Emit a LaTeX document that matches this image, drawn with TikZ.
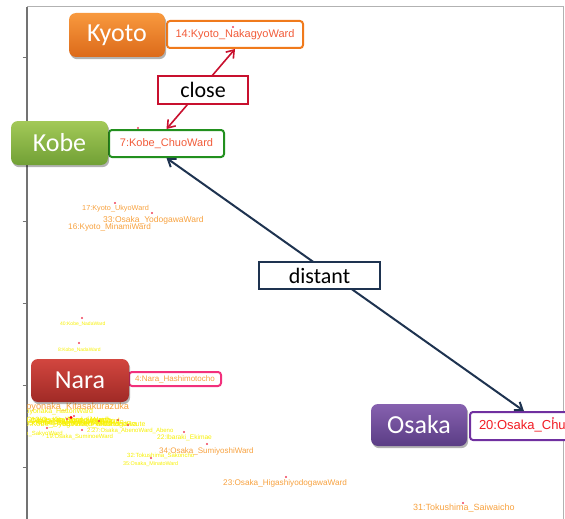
\documentclass[tikz,border=0pt]{standalone}
\usepackage{fontspec}
\setmainfont{Carlito}
\newfontfamily\lab{Liberation Sans}
\usetikzlibrary{arrows.meta,shadows,calc}

\definecolor{kyotoT}{HTML}{F8993E}
\definecolor{kyotoB}{HTML}{DC6A1A}
\definecolor{kyotoE}{HTML}{F07A1C}
\definecolor{kobeT}{HTML}{A3C958}
\definecolor{kobeB}{HTML}{71A035}
\definecolor{kobeE}{HTML}{22901E}
\definecolor{naraT}{HTML}{D2463F}
\definecolor{naraB}{HTML}{A02A26}
\definecolor{naraE}{HTML}{F2307C}
\definecolor{osakaT}{HTML}{8661AF}
\definecolor{osakaB}{HTML}{5B3D85}
\definecolor{osakaE}{HTML}{7030A0}
\definecolor{wardtxt}{HTML}{F25C3A}
\definecolor{osakatxt}{HTML}{F21C24}
\definecolor{ptorange}{HTML}{F7A13E}
\definecolor{ptyellow}{HTML}{F7F000}
\definecolor{dotred}{HTML}{F0405A}
\definecolor{closeE}{HTML}{C8102E}
\definecolor{navy}{HTML}{1E3350}

\newcommand{\fsz}[1]{\fontsize{#1}{#1}\selectfont}

\tikzset{
  city/.style={rounded corners=7pt, text=white, inner sep=0pt,
    font=\fsz{26},
    drop shadow={shadow xshift=1.2pt, shadow yshift=-2.2pt, opacity=0.3, fill=black}},
  ward/.style={draw, fill=white, rounded corners=3pt, line width=2pt,
    inner sep=0pt, font=\lab\fsz{11}, text=wardtxt},
  tag/.style={draw, fill=white, line width=2pt, inner sep=0pt,
    font=\fsz{22}, text=black},
  dot/.style={circle, fill=dotred, inner sep=0pt, minimum size=2.4pt},
  olab/.style={anchor=west, inner sep=0pt, text=ptorange, font=\lab\fsz{#1}},
  ylab/.style={anchor=west, inner sep=0pt, text=ptyellow, font=\lab\fsz{#1}},
  link/.style={line width=#1, {Straight Barb[length=7pt,width=10pt]}-{Straight Barb[length=7pt,width=10pt]}},
}

\begin{document}
\begin{tikzpicture}[x=1pt,y=-1pt]
\useasboundingbox (0,0) rectangle (565,519);
\clip (0,0) rectangle (565,519);

% plot frame and axis ticks
\draw[black!30, line width=1pt] (27,7) -- (563,7) -- (563,519);
\draw[black!55, line width=1.2pt] (27,7) -- (27,519);
\foreach \ty in {57,139,221,303,385,467}
  \draw[black!55, line width=0.8pt] (22.5,\ty) -- (27,\ty);

% scatter labels and points
\begin{scope}
\clip (27.6,8) rectangle (565,519);
\node[olab=7.3] (l17) at (82,209) {17:Kyoto\_UkyoWard};
\node[olab=8.5] (l33) at (103,220) {33:Osaka\_YodogawaWard};
\node[olab=8.2] (l16) at (68,227) {16:Kyoto\_MinamiWard};
\node[ylab=5] (l40) at (60,324) {40:Kobe\_NadaWard};
\node[ylab=5] (l8) at (58,350) {8:Kobe\_NadaWard};
\node[olab=6] (l3) at (131,383) {3:Ikoma\_Ikomacho};
\node[olab=9.2] (l12) at (21.5,407) {Toyonaka\_Kitasakurazuka};
\node[ylab=7] (l10) at (22,411.5) {Toyonaka\_HattoriWard};
% dense overlapping cluster
\node[ylab=7.5] (l1) at (20,420.5) {1:Osaka\_KitaWard\_Umeda};
\node[ylab=7.5] (l2) at (24,422) {2:Osaka\_NakanoshimaWard};
\node[ylab=7.5] (l5) at (29,423.5) {5:Kobe\_SannomiyaWard};
\node[ylab=7.5] (l6) at (38,422.5) {6:Osaka\_NishiWard\_Kujo};
\node[ylab=7.5] (l9) at (25,425) {9:Kobe\_HyogoWard\_Minatogawa};
\node[ylab=7.5] (l13) at (31,421) {13:Osaka\_TennojiWard};
\node[ylab=7] (l38) at (62,424.5) {38:Kobe\_HarborlandRoute};
\node[ylab=6] (l27) at (87,431) {2:27:Osaka\_AbenoWard\_Abeno};
\node[ylab=6] (l18) at (13,434) {Kyoto\_SakyoWard};
\node[ylab=6] (l19) at (46,437) {19:Osaka\_SuminoeWard};
\node[ylab=6.6] (l22) at (157,438) {22:Ibaraki\_Ekimae};
\node[olab=8] (l34) at (159,451) {34:Osaka\_SumiyoshiWard};
\node[ylab=6] (l32) at (127,456) {32:Tokushima\_Sakoncho};
\node[ylab=5.4] (l35) at (123,464) {35:Osaka\_MinatoWard};
\node[olab=8.2] (l23) at (223,483) {23:Osaka\_HigashiyodogawaWard};
\node[olab=9] (l31) at (413,508) {31:Tokushima\_Saiwaicho};

\foreach \px/\py in {115/203, 152/213, 82/318, 79/343,
    67/419, 74/416, 99/421, 118/420, 128/425, 47/428, 82/430,
    184/432, 207/444, 151/458, 286/477, 463/503}
  \node[dot] at (\px,\py) {};
\node[dot, minimum size=3.2pt, fill=red] at (71,417.5) {};
\end{scope}

% ward label boxes
\node[ward, draw=kyotoE, minimum width=136pt, minimum height=27pt] (kyl) at (235,34.5) {14:Kyoto\_NakagyoWard};
\node[ward, draw=kobeE, minimum width=115pt, minimum height=27pt] (kbl) at (166.5,143.5) {7:Kobe\_ChuoWard};
\node[ward, draw=naraE, minimum width=92pt, minimum height=14pt, font=\lab\fsz{8}, text=ptorange] (nal) at (175,379) {4:Nara\_Hashimotocho};
\node[ward, draw=osakaE, minimum height=28pt, inner xsep=9pt, anchor=west, font=\lab\fsz{13}, text=osakatxt] (osl) at (469,426) {20:Osaka\_ChuoWard};
\node[dot] at (233,27) {};
\node[dot] at (138,128) {};
\node[dot] at (553,418) {};

% city boxes
\node[city, top color=kyotoT, bottom color=kyotoB, minimum width=96pt, minimum height=44pt] (kyoto) at (117,35) {Kyoto};
\node[city, top color=kobeT, bottom color=kobeB, minimum width=97pt, minimum height=44pt] (kobe) at (59.5,143) {Kobe};
\node[city, top color=naraT, bottom color=naraB, minimum width=98pt, minimum height=43pt] (nara) at (80,380.5) {Nara};
\node[city, top color=osakaT, bottom color=osakaB, minimum width=96pt, minimum height=42pt] (osaka) at (419,425) {Osaka};

% relations
\draw[link=1.6pt, closeE] (kyl.south) -- (kbl.north);
\draw[link=2pt, navy] (kbl.south) -- ($(osl.north west)!0.38!(osl.north east)$);
\node[tag, draw=closeE, minimum width=90pt, minimum height=28pt] (close) at (203,90) {close};
\node[tag, draw=navy, minimum width=121pt, minimum height=27pt] (distant) at (319.5,275.5) {distant};
\end{tikzpicture}
\end{document}
